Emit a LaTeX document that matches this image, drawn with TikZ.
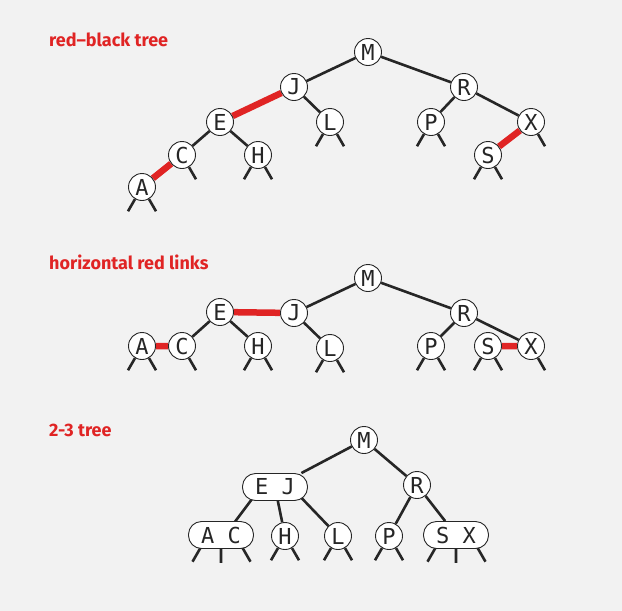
\documentclass[tikz,border=0pt]{standalone}
\usepackage{fontspec}
\setmainfont{Fira Sans}
\newfontfamily\keyfont{DejaVu Sans Mono}
\usetikzlibrary{backgrounds}
\definecolor{rbred}{HTML}{E02424}
\definecolor{bggray}{HTML}{F2F2F2}
\definecolor{ink}{HTML}{262626}

\begin{document}
\begin{tikzpicture}[x=1pt,y=1pt,
		key/.style={draw=ink,fill=white,circle,line width=0.9pt,minimum size=27pt,inner sep=0pt,text=ink,font=\keyfont\fontsize{22}{22}\selectfont},
		pair/.style={key,rectangle,rounded corners=13pt,minimum width=65pt,minimum height=27pt},
		link/.style={draw=ink,line width=2.6pt},
		redlink/.style={draw=rbred,line width=6.5pt},
		nil/.style={draw=ink,line width=2.6pt},
		title/.style={anchor=base west,inner sep=0pt,text=rbred,font=\bfseries\fontsize{18}{18}\selectfont}]
		\useasboundingbox (0,0) rectangle (622,-611);
		
		\node[title] (t1) at (49,-46.7) {red–black tree};
		\node[key] (M1) at (368,-52) {M};
		\node[key] (J1) at (294,-87) {J};
		\node[key] (R1) at (464,-87) {R};
		\node[key] (E1) at (220,-122) {E};
		\node[key] (L1) at (330,-122) {L};
		\node[key] (P1) at (431,-122) {P};
		\node[key] (X1) at (531,-122) {X};
		\node[key] (C1) at (182,-155) {C};
		\node[key] (H1) at (258,-155) {H};
		\node[key] (S1) at (488,-155) {S};
		\node[key] (A1) at (142,-187) {A};
		
		\node[title] (t2) at (49,-269.5) {horizontal red links};
		\node[key] (M2) at (368,-278) {M};
		\node[key] (E2) at (220,-312) {E};
		\node[key] (J2) at (294,-313) {J};
		\node[key] (R2) at (464,-313) {R};
		\node[key] (A2) at (142,-346) {A};
		\node[key] (C2) at (182,-346) {C};
		\node[key] (H2) at (258,-346) {H};
		\node[key] (L2) at (330,-348) {L};
		\node[key] (P2) at (431,-346) {P};
		\node[key] (S2) at (488,-346) {S};
		\node[key] (X2) at (531,-346) {X};
		
		\node[title] (t3) at (49,-436) {2-3 tree};
		\node[key] (M3) at (364,-440) {M};
		\node[pair] (EJ3) at (275,-487) {E J};
		\node[key] (R3) at (417,-485) {R};
		\node[pair] (AC3) at (221,-535) {A C};
		\node[key] (H3) at (285,-536) {H};
		\node[key] (L3) at (338,-536) {L};
		\node[key] (P3) at (389,-536) {P};
		\node[pair] (SX3) at (456,-535) {S X};
		
		\begin{scope}[on background layer]
		\fill[bggray] (0,0) rectangle (622,-611);
		\draw[link] (M1) -- (J1) (M1) -- (R1) (J1) -- (L1) (E1) -- (C1) (E1) -- (H1) (R1) -- (P1) (R1) -- (X1);
		\draw[redlink] (J1) -- (E1) (C1) -- (A1) (X1) -- (S1);
		\draw[link] (M2) -- (J2) (M2) -- (R2) (J2) -- (L2) (E2) -- (C2) (E2) -- (H2) (R2) -- (P2) (R2) -- (X2);
		\draw[redlink] (E2) -- (J2) (A2) -- (C2) (S2) -- (X2);
		\draw[link] (M3) -- (EJ3) (M3) -- (R3) (R3) -- (P3) (R3) -- (SX3) (EJ3) -- (H3);
		\draw[link] ([xshift=-14pt]EJ3.center) -- ([xshift=4pt]AC3.center) ([xshift=16pt]EJ3.center) -- (L3);
		\foreach \n in {A1,H1,L1,P1,S1,A2,H2,L2,P2,S2,H3,L3,P3}
			\draw[nil] (\n) -- +(-120:28) (\n) -- +(-60:28);
		\foreach \n in {C1,X1,C2,X2}
			\draw[nil] (\n) -- +(-60:28);
		\foreach \n in {AC3,SX3}
			\draw[nil] ([xshift=-20pt,yshift=2pt]\n.south) -- +(-120:17) ([yshift=2pt]\n.south) -- +(0,-16) ([xshift=21pt,yshift=2pt]\n.south) -- +(-60:17);
		\end{scope}
\end{tikzpicture}
\end{document}
